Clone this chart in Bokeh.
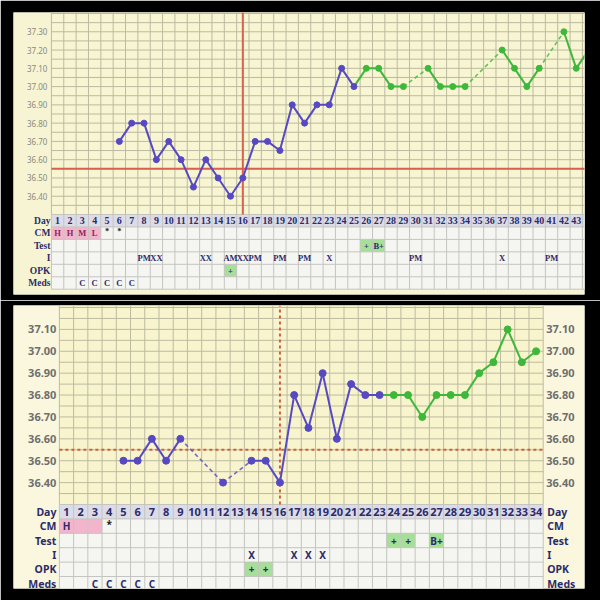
from bokeh.plotting import figure
from bokeh.layouts import column
from bokeh.models import Range1d
from bokeh.core.properties import value
from bokeh.embed import file_html
from bokeh.resources import INLINE

# ---------------- data: top chart ----------------
top_days = [6, 7, 8, 9, 10, 11, 12, 13, 14, 15, 16, 17, 18, 19, 20, 21, 22, 23, 24, 25,
            26, 27, 28, 29, 31, 32, 33, 34, 37, 38, 39, 40, 42, 43, 44]
top_temps = [36.70, 36.80, 36.80, 36.60, 36.70, 36.60, 36.45, 36.60, 36.50, 36.40,
             36.50, 36.70, 36.70, 36.65, 36.90, 36.80, 36.90, 36.90, 37.10, 37.00,
             37.10, 37.10, 37.00, 37.00, 37.10, 37.00, 37.00, 37.00, 37.20, 37.10,
             37.00, 37.10, 37.30, 37.10, 37.20]
top_last_pre_day = 25
top_coverline = 36.55
top_ovulation_day = 16
top_day_labels = list(range(1, 44))
top_temp_ticks = [36.40, 36.50, 36.60, 36.70, 36.80, 36.90, 37.00, 37.10, 37.20, 37.30]
top_cm_days = [1, 2, 3, 4, 5, 6]
top_cm_text = ["H", "H", "M", "L", "*", "*"]
top_cm_pink = [1, 2, 3, 4]
top_test_days = [26, 27]
top_test_text = ["+", "B+"]
top_test_green = [26, 27]
top_i_days = [8, 9, 13, 15, 16, 17, 19, 21, 23, 30, 37, 41]
top_i_text = ["PM", "XX", "XX", "AM", "XX", "PM", "PM", "PM", "X", "PM", "X", "PM"]
top_opk_days = [15]
top_opk_text = ["+"]
top_opk_green = [15]
top_meds_days = [3, 4, 5, 6, 7]
top_meds_text = ["C", "C", "C", "C", "C"]

# ---------------- data: bottom chart ----------------
bot_days = [5, 6, 7, 8, 9, 12, 14, 15, 16, 17, 18, 19, 20, 21, 22, 23,
            24, 25, 26, 27, 28, 29, 30, 31, 32, 33, 34]
bot_temps = [36.50, 36.50, 36.60, 36.50, 36.60, 36.40, 36.50, 36.50, 36.40, 36.80,
             36.65, 36.90, 36.60, 36.85, 36.80, 36.80,
             36.80, 36.80, 36.70, 36.80, 36.80, 36.80, 36.90, 36.95, 37.10, 36.95, 37.00]
bot_last_pre_day = 23
bot_coverline = 36.55
bot_ovulation_day = 16
bot_day_labels = list(range(1, 35))
bot_temp_ticks = [36.40, 36.50, 36.60, 36.70, 36.80, 36.90, 37.00, 37.10]
bot_cm_days = [1, 4]
bot_cm_text = ["H", "*"]
bot_cm_pink = [1, 2, 3]
bot_test_days = [24, 25, 27]
bot_test_text = ["+", "+", "B+"]
bot_test_green = [24, 25, 27]
bot_i_days = [14, 17, 18, 19]
bot_i_text = ["X", "X", "X", "X"]
bot_opk_days = [14, 15]
bot_opk_text = ["+", "+"]
bot_opk_green = [14, 15]
bot_meds_days = [3, 4, 5, 6, 7]
bot_meds_text = ["C", "C", "C", "C", "C"]

row_names = ["Day", "CM", "Test", "I", "OPK", "Meds"]

BLUE = "#5749c2"
GREEN = "#3db83a"
NAVY = "#2b2b6b"
PINK = "#f2b5cb"
CELL_GREEN = "#a6df98"


def build_panel(cfg):
    W, H = cfg["size"]
    l, r, t, b = cfg["borders"]
    fw, fh = W - l - r, H - t - b
    ppd = cfg["px_per_day"]
    x_start = 0.5 - cfg["grid_left_px"] / ppd
    x_end = x_start + fw / ppd
    t_top, t_bot = cfg["temp_range"]
    ppt = cfg["temp_area_px"] / (t_top - t_bot)
    y_end = t_top + cfg["temp_top_px"] / ppt
    y_start = y_end - fh / ppt
    table_top_px = cfg["temp_top_px"] + cfg["temp_area_px"]
    rh = cfg["row_h"]

    p = figure(width=W, height=H, x_range=Range1d(x_start, x_end),
               y_range=Range1d(y_start, y_end), output_backend="svg",
               toolbar_location=None, x_axis_location=None, y_axis_location=None,
               min_border_left=l, min_border_right=r, min_border_top=t,
               min_border_bottom=b, background_fill_color=cfg["bg"],
               border_fill_color="black", outline_line_color=None)
    p.xgrid.visible = False
    p.ygrid.visible = False
    p.title.visible = False
    p.extra_y_ranges = {"rows": Range1d(start=(fh - table_top_px) / rh,
                                        end=-table_top_px / rh)}

    days = cfg["days"]
    temps = cfg["temps"]
    ncol = cfg["ncols"]
    gx_right = ncol + 0.5
    col_edges = [k + 0.5 for k in range(0, ncol + 1)]

    # temperature grid area
    p.quad(left=[0.5], right=[gx_right], bottom=[t_bot], top=[y_end],
           fill_color=cfg["grid_bg"], line_color=None)
    p.segment(x0=col_edges, x1=col_edges, y0=[t_bot] * len(col_edges),
              y1=[y_end] * len(col_edges), line_color=cfg["grid_col"], line_width=1)
    n_h = int(round((t_top - t_bot) / 0.05)) + 1
    hlines = [t_bot + 0.05 * i for i in range(n_h)]
    p.segment(x0=[0.5] * n_h, x1=[gx_right] * n_h, y0=hlines, y1=hlines,
              line_color=cfg["grid_col"], line_width=1)

    # table
    p.quad(left=[0.5], right=[gx_right], top=[0], bottom=[6], fill_color="#f5f5f1",
           line_color=None, y_range_name="rows")
    p.quad(left=[0.5], right=[gx_right], top=[0], bottom=[1], fill_color="#dcdce8",
           line_color=None, y_range_name="rows")
    pk = cfg["cm_pink"]
    p.quad(left=[d - 0.5 for d in pk], right=[d + 0.5 for d in pk], top=[1] * len(pk),
           bottom=[2] * len(pk), fill_color=PINK, line_color=None, y_range_name="rows")
    for row, greens in ((2, cfg["test_green"]), (4, cfg["opk_green"])):
        p.quad(left=[d - 0.5 for d in greens], right=[d + 0.5 for d in greens],
               top=[row] * len(greens), bottom=[row + 1] * len(greens),
               fill_color=CELL_GREEN, line_color=None, y_range_name="rows")
    p.segment(x0=col_edges, x1=col_edges, y0=[0] * len(col_edges), y1=[6] * len(col_edges),
              line_color="#c4c4c0", line_width=1, y_range_name="rows")
    p.segment(x0=[0.5] * 7, x1=[gx_right] * 7, y0=list(range(7)), y1=list(range(7)),
              line_color="#c4c4c0", line_width=1, y_range_name="rows")

    # reference lines
    cl_kw = dict(line_color=cfg["red"], line_width=cfg["red_w"], line_dash=cfg["red_dash"])
    p.segment(x0=[0.5], x1=[gx_right], y0=[cfg["coverline"]], y1=[cfg["coverline"]], **cl_kw)
    p.segment(x0=[cfg["ov_day"]], x1=[cfg["ov_day"]], y0=[t_bot], y1=[y_end], **cl_kw)

    # temperature line
    lp = cfg["last_pre"]
    sx0, sx1, sy0, sy1, sc = [], [], [], [], []
    dx0, dx1, dy0, dy1, dc = [], [], [], [], []
    for i in range(len(days) - 1):
        c = BLUE if days[i + 1] <= lp else GREEN
        if days[i + 1] - days[i] == 1:
            sx0.append(days[i]); sx1.append(days[i + 1])
            sy0.append(temps[i]); sy1.append(temps[i + 1]); sc.append(c)
        else:
            dx0.append(days[i]); dx1.append(days[i + 1])
            dy0.append(temps[i]); dy1.append(temps[i + 1]); dc.append(c)
    p.segment(x0=dx0, x1=dx1, y0=dy0, y1=dy1, line_color=dc, line_width=1.6,
              line_dash="4 3", line_alpha=0.8)
    p.segment(x0=sx0, x1=sx1, y0=sy0, y1=sy1, line_color=sc, line_width=2)
    pc = [BLUE if d <= lp else GREEN for d in days]
    p.scatter(x=days, y=temps, size=cfg["pt"], fill_color=pc, line_color=pc)

    # temperature labels
    tl = ["%.2f" % v for v in cfg["ticks"]]
    tf = dict(text_font=value(cfg["tick_font"]), text_font_size=cfg["tick_size"],
              text_font_style=cfg["tick_style"], text_color=cfg["tick_color"],
              text_baseline="middle")
    p.text(x=[0.5] * len(tl), y=cfg["ticks"], text=tl, text_align="right",
           x_offset=-cfg["tick_pad"], **tf)
    if cfg["right_labels"]:
        p.text(x=[gx_right] * len(tl), y=cfg["ticks"], text=tl, text_align="left",
               x_offset=cfg["tick_pad"], **tf)

    # table text
    f = dict(text_font=value(cfg["font"]), text_font_style="bold", text_baseline="middle",
             y_range_name="rows")
    dl = cfg["day_labels"]
    p.text(x=dl, y=[0.5] * len(dl), text=[str(d) for d in dl], text_align="center",
           text_color=NAVY, text_font_size=cfg["day_size"], **f)
    p.text(x=[0.5] * 6, y=[k + 0.5 for k in range(6)], text=row_names, text_align="right",
           x_offset=-cfg["row_pad"], text_color=NAVY, text_font_size=cfg["row_size"], **f)
    if cfg["right_labels"]:
        p.text(x=[gx_right] * 6, y=[k + 0.5 for k in range(6)], text=row_names,
               text_align="left", x_offset=cfg["row_pad"] + 1, text_color=NAVY,
               text_font_size=cfg["row_size"], **f)
    cmc = [cfg["cm_color"] if s != "*" else "#222222" for s in cfg["cm_text"]]
    cmy = [1.5 if s != "*" else 1.35 for s in cfg["cm_text"]]
    p.text(x=cfg["cm_days"], y=cmy, text=cfg["cm_text"], text_align="center",
           text_color=cmc, text_font_size=cfg["cell_size"], **f)
    for row, dd, tt in ((2, cfg["test_days"], cfg["test_text"]),
                        (3, cfg["i_days"], cfg["i_text"]),
                        (4, cfg["opk_days"], cfg["opk_text"]),
                        (5, cfg["meds_days"], cfg["meds_text"])):
        p.text(x=dd, y=[row + 0.5] * len(dd), text=tt, text_align="center",
               text_color=NAVY, text_font_size=cfg["cell_size"], **f)
    return p


top = build_panel(dict(
    size=(600, 300), borders=(12, 16, 12, 6), px_per_day=12.37, grid_left_px=38,
    temp_range=(37.40, 36.30), temp_top_px=1, temp_area_px=201, row_h=12.45,
    bg="#f7f4d4", grid_bg="#f8f5d2", grid_col="#bcbaa0", days=top_days, temps=top_temps,
    ncols=44, last_pre=top_last_pre_day, coverline=top_coverline, ov_day=top_ovulation_day,
    red="#d8604c", red_w=2, red_dash="solid", pt=6, ticks=top_temp_ticks,
    tick_font="Noto Sans", tick_size="8px", tick_style="normal", tick_color="#8a8a80",
    tick_pad=4, right_labels=False, font="Liberation Serif", day_size="10px",
    row_size="9.5px", cell_size="8.5px", row_pad=1, day_labels=top_day_labels,
    cm_days=top_cm_days, cm_text=top_cm_text, cm_pink=top_cm_pink, cm_color="#8a2660",
    test_days=top_test_days, test_text=top_test_text, test_green=top_test_green,
    i_days=top_i_days, i_text=top_i_text, opk_days=top_opk_days, opk_text=top_opk_text,
    opk_green=top_opk_green, meds_days=top_meds_days, meds_text=top_meds_text))

bottom = build_panel(dict(
    size=(600, 300), borders=(13, 12, 5, 12), px_per_day=14.33, grid_left_px=46.2,
    temp_range=(37.20, 36.30), temp_top_px=2, temp_area_px=197, row_h=14.4,
    bg="#faf7de", grid_bg="#f8f4cd", grid_col="#bdbba0", days=bot_days, temps=bot_temps,
    ncols=34, last_pre=bot_last_pre_day, coverline=bot_coverline, ov_day=bot_ovulation_day,
    red="#d0603c", red_w=2, red_dash="3 3", pt=7, ticks=bot_temp_ticks,
    tick_font="Noto Sans", tick_size="11px", tick_style="bold", tick_color="#6e6e6e",
    tick_pad=3, right_labels=True, font="Noto Sans", day_size="11px",
    row_size="10.5px", cell_size="10px", row_pad=3, day_labels=bot_day_labels,
    cm_days=bot_cm_days, cm_text=bot_cm_text, cm_pink=bot_cm_pink, cm_color=NAVY,
    test_days=bot_test_days, test_text=bot_test_text, test_green=bot_test_green,
    i_days=bot_i_days, i_text=bot_i_text, opk_days=bot_opk_days, opk_text=bot_opk_text,
    opk_green=bot_opk_green, meds_days=bot_meds_days, meds_text=bot_meds_text))

layout = column(top, bottom)
open("out.html", "w").write(file_html(layout, INLINE))
